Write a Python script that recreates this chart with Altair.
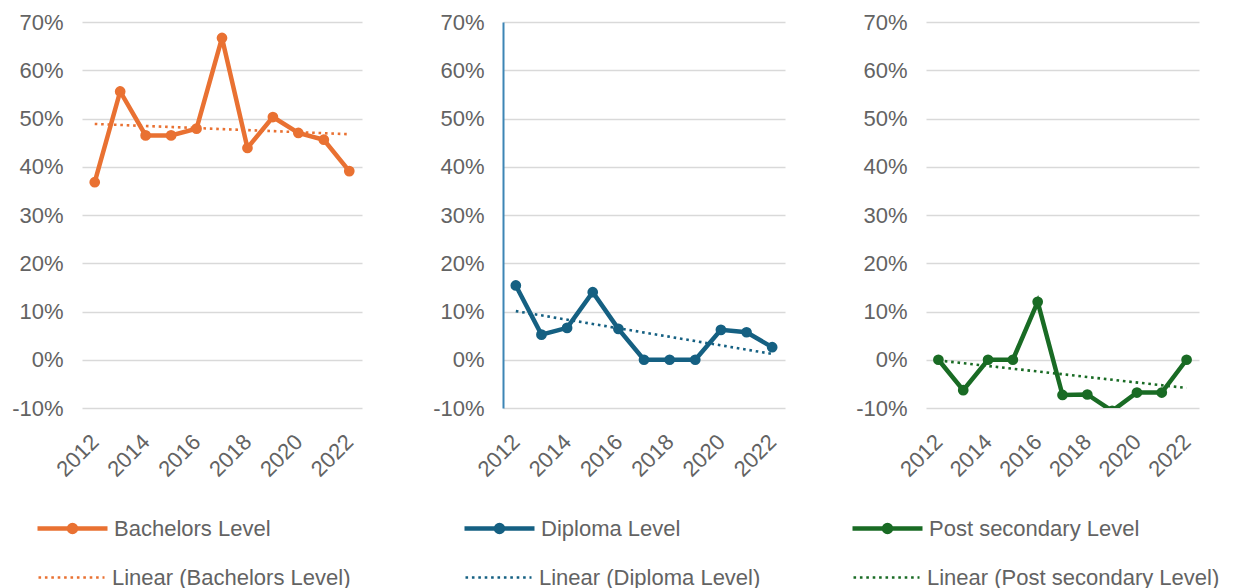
import altair as alt
import pandas as pd

# ---- data ----
years = list(range(2012, 2023))
bachelors = [0.368, 0.556, 0.465, 0.465, 0.479, 0.667, 0.439, 0.503, 0.470, 0.456, 0.391]
diploma = [0.154, 0.052, 0.066, 0.140, 0.064, 0.0, 0.0, 0.0, 0.062, 0.057, 0.026]
post_secondary = [0.0, -0.063, 0.0, 0.0, 0.120, -0.073, -0.072, -0.106, -0.068, -0.068, 0.0]

series_names = ["Bachelors Level", "Diploma Level", "Post secondary Level"]
series_values = [bachelors, diploma, post_secondary]
series_colors = ["#E97132", "#156082", "#196B24"]
year_ticks = [2012, 2014, 2016, 2018, 2020, 2022]
y_ticks = [-0.1, 0.0, 0.1, 0.2, 0.3, 0.4, 0.5, 0.6, 0.7]

FONT = "Liberation Sans"
TEXT = "#636363"
GRID = "#d9d9d9"

SERIES_SYMBOL = ("M-3.5,0L3.5,0M-0.35,0A0.35,0.35,0,1,1,0.35,0"
                 "A0.35,0.35,0,1,1,-0.35,0")
TREND_SYMBOL = "M-3.3,0L3.3,0"
PCT_LABEL = "(datum.value < 0 ? '-' : '') + format(abs(datum.value), '.0%')"


def panel(name, values, color, width, legend_x, axis_line=None):
    df = pd.DataFrame({"year": years, "value": values, "series": name})
    trend_name = f"Linear ({name})"
    base = alt.Chart(df)

    x = alt.X(
        "year:Q",
        scale=alt.Scale(domain=[2011.5, 2022.5], nice=False, zero=False),
        axis=alt.Axis(values=year_ticks, format="d", labelAngle=-45, grid=False,
                      domain=False, ticks=False, labelPadding=30, title=None,
                      labelFont=FONT, labelFontSize=22, labelColor=TEXT,
                      labelAlign="right", labelBaseline="middle",
                      labelOverlap=False, labelFlush=False),
    )
    yaxis = dict(values=y_ticks, labelExpr=PCT_LABEL, title=None, ticks=False,
                 labelPadding=19, labelFont=FONT, labelFontSize=22,
                 labelColor=TEXT, gridColor=GRID, gridWidth=1.3)
    if axis_line:
        yaxis.update(domain=True, domainColor=axis_line, domainWidth=2)
    else:
        yaxis.update(domain=False)
    y = alt.Y("value:Q", scale=alt.Scale(domain=[-0.1, 0.7], nice=False, zero=False),
              axis=alt.Axis(**yaxis))

    legend_common = dict(title=None, orient="none", labelFont=FONT, labelFontSize=22,
                         labelColor=TEXT, labelLimit=500, padding=0,
                         symbolSize=400, labelOffset=29, legendX=legend_x)

    line = base.mark_line(strokeWidth=4.5, clip=True).encode(
        x=x, y=y,
        color=alt.Color("series:N", scale=alt.Scale(domain=[name], range=[color]),
                        legend=alt.Legend(symbolType=SERIES_SYMBOL, symbolStrokeWidth=4.5,
                                          symbolFillColor=color, legendY=494,
                                          **legend_common)),
    )
    points = base.mark_point(filled=True, size=115, opacity=1, color=color,
                             clip=True).encode(x=x, y=y)
    trend = (
        base.transform_regression("year", "value", extent=[2012, 2022])
        .transform_calculate(trend=f'"{trend_name}"')
        .mark_line(strokeWidth=2.6, color=color, clip=True)
        .encode(
            x=x, y=y,
            strokeDash=alt.StrokeDash(
                "trend:N",
                scale=alt.Scale(domain=[trend_name], range=[[2.6, 3.8]]),
                legend=alt.Legend(symbolType=TREND_SYMBOL, symbolStrokeWidth=2.6,
                                  symbolStrokeColor=color, legendY=544,
                                  **legend_common),
            ),
        )
    )
    return alt.layer(trend, line, points).properties(
        width=width, height=386,
        view=alt.ViewBackground(stroke="transparent", strokeWidth=0),
    )


p1 = panel(series_names[0], series_values[0], series_colors[0], 280, -22)
p2 = panel(series_names[1], series_values[1], series_colors[1], 282, -16,
           axis_line="#3d85b5")
p3 = panel(series_names[2], series_values[2], series_colors[2], 273, -51)

chart = (
    alt.hconcat(p1, p2, p3, spacing=70)
    .resolve_scale(color="independent", strokeDash="independent")
    .resolve_legend(color="independent", strokeDash="independent")
    .properties(padding={"left": 11, "top": 11, "right": 0, "bottom": 0})
    .configure_view(stroke="transparent", strokeWidth=0)
    .configure_axisX(grid=False)
    .configure(background="white")
)

chart.save("out.html", embed_options={"renderer": "svg", "actions": False})
